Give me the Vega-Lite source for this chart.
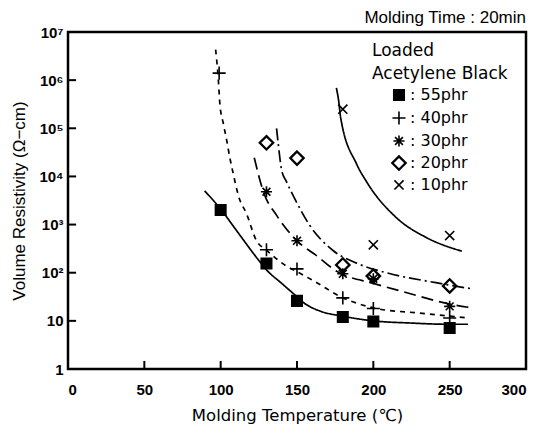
{
  "$schema": "https://vega.github.io/schema/vega-lite/v6.json",
  "width": 458,
  "height": 337,
  "padding": {"left": 10, "top": 9, "right": 14, "bottom": 5},
  "background": "white",
  "title": {"text": "Molding Time : 20min", "anchor": "end", "fontSize": 17, "fontWeight": "normal", "font": "Liberation Sans", "color": "black", "offset": -2},
  "config": {
    "view": {"stroke": "black", "strokeWidth": 2.5},
    "axis": {
      "domain": false, "grid": false, "ticks": false,
      "labelFont": "Liberation Sans", "labelFontSize": 15, "labelColor": "black", "labelFontWeight": "bold",
      "titleFont": "Liberation Sans", "titleFontSize": 17, "titleFontWeight": "normal", "titleColor": "black"
    }
  },
  "datasets": {
    "points": [
      {"series": "55phr", "temp": 100, "res": 2000},
      {"series": "55phr", "temp": 130, "res": 155},
      {"series": "55phr", "temp": 150, "res": 26},
      {"series": "55phr", "temp": 180, "res": 12},
      {"series": "55phr", "temp": 200, "res": 9.7},
      {"series": "55phr", "temp": 250, "res": 7.1},
      {"series": "40phr", "temp": 99, "res": 1400000},
      {"series": "40phr", "temp": 130, "res": 300},
      {"series": "40phr", "temp": 150, "res": 120},
      {"series": "40phr", "temp": 180, "res": 30},
      {"series": "40phr", "temp": 200, "res": 18},
      {"series": "40phr", "temp": 250, "res": 11.5},
      {"series": "30phr", "temp": 130, "res": 4800},
      {"series": "30phr", "temp": 150, "res": 460},
      {"series": "30phr", "temp": 180, "res": 95},
      {"series": "30phr", "temp": 200, "res": 75},
      {"series": "30phr", "temp": 250, "res": 20},
      {"series": "20phr", "temp": 130, "res": 50000},
      {"series": "20phr", "temp": 150, "res": 24000},
      {"series": "20phr", "temp": 180, "res": 145},
      {"series": "20phr", "temp": 200, "res": 85},
      {"series": "20phr", "temp": 250, "res": 53},
      {"series": "10phr", "temp": 180, "res": 250000},
      {"series": "10phr", "temp": 200, "res": 380},
      {"series": "10phr", "temp": 250, "res": 590}
    ],
    "legendKeys": [
      {"series": "55phr", "label": ": 55phr", "temp": 216.8, "labelTemp": 224, "res": 493000},
      {"series": "40phr", "label": ": 40phr", "temp": 216.8, "labelTemp": 224, "res": 164000},
      {"series": "30phr", "label": ": 30phr", "temp": 216.8, "labelTemp": 224, "res": 54500},
      {"series": "20phr", "label": ": 20phr", "temp": 216.8, "labelTemp": 224, "res": 19000},
      {"series": "10phr", "label": ": 10phr", "temp": 216.8, "labelTemp": 224, "res": 6640}
    ],
    "legendTitle": [
      {"text": "Loaded", "temp": 199.1, "res": 4040000},
      {"text": "Acetylene Black", "temp": 199.1, "res": 1340000}
    ],
    "xTicks": [{"temp": 50}, {"temp": 100}, {"temp": 150}, {"temp": 200}, {"temp": 250}],
    "yTicks": [{"res": 10}, {"res": 100}, {"res": 1000}, {"res": 10000}, {"res": 100000}, {"res": 1000000}],
    "curves": [
      {"curve": "55phr", "o": 1, "temp": 89.5, "res": 5000},
      {"curve": "55phr", "o": 2, "temp": 100, "res": 2100},
      {"curve": "55phr", "o": 3, "temp": 110, "res": 780},
      {"curve": "55phr", "o": 4, "temp": 125, "res": 180},
      {"curve": "55phr", "o": 5, "temp": 130, "res": 115},
      {"curve": "55phr", "o": 6, "temp": 140, "res": 60},
      {"curve": "55phr", "o": 7, "temp": 148, "res": 36},
      {"curve": "55phr", "o": 8, "temp": 155, "res": 23},
      {"curve": "55phr", "o": 9, "temp": 165, "res": 16},
      {"curve": "55phr", "o": 10, "temp": 180, "res": 12.5},
      {"curve": "55phr", "o": 11, "temp": 200, "res": 10},
      {"curve": "55phr", "o": 12, "temp": 225, "res": 9},
      {"curve": "55phr", "o": 13, "temp": 248, "res": 8.5},
      {"curve": "55phr", "o": 14, "temp": 262, "res": 8.5},
      {"curve": "40phr", "o": 1, "temp": 96.7, "res": 4300000},
      {"curve": "40phr", "o": 2, "temp": 98.5, "res": 1000000},
      {"curve": "40phr", "o": 3, "temp": 99.5, "res": 316000},
      {"curve": "40phr", "o": 4, "temp": 101.8, "res": 123000},
      {"curve": "40phr", "o": 5, "temp": 104, "res": 55000},
      {"curve": "40phr", "o": 6, "temp": 106, "res": 24500},
      {"curve": "40phr", "o": 7, "temp": 108.3, "res": 11200},
      {"curve": "40phr", "o": 8, "temp": 111.6, "res": 4000},
      {"curve": "40phr", "o": 9, "temp": 117, "res": 1660},
      {"curve": "40phr", "o": 10, "temp": 123.5, "res": 460},
      {"curve": "40phr", "o": 11, "temp": 130, "res": 295},
      {"curve": "40phr", "o": 12, "temp": 143, "res": 138},
      {"curve": "40phr", "o": 13, "temp": 150, "res": 105},
      {"curve": "40phr", "o": 14, "temp": 163, "res": 62},
      {"curve": "40phr", "o": 15, "temp": 180, "res": 30},
      {"curve": "40phr", "o": 16, "temp": 189, "res": 23.4},
      {"curve": "40phr", "o": 17, "temp": 200, "res": 18.6},
      {"curve": "40phr", "o": 18, "temp": 230, "res": 14.5},
      {"curve": "40phr", "o": 19, "temp": 262, "res": 11.5},
      {"curve": "30phr", "o": 1, "temp": 122, "res": 24500},
      {"curve": "30phr", "o": 2, "temp": 128, "res": 4800},
      {"curve": "30phr", "o": 3, "temp": 137, "res": 1500},
      {"curve": "30phr", "o": 4, "temp": 150, "res": 460},
      {"curve": "30phr", "o": 5, "temp": 163, "res": 224},
      {"curve": "30phr", "o": 6, "temp": 176, "res": 107},
      {"curve": "30phr", "o": 7, "temp": 200, "res": 60},
      {"curve": "30phr", "o": 8, "temp": 220, "res": 40},
      {"curve": "30phr", "o": 9, "temp": 250, "res": 22.4},
      {"curve": "30phr", "o": 10, "temp": 265, "res": 18.6},
      {"curve": "20phr", "o": 1, "temp": 136.6, "res": 100000},
      {"curve": "20phr", "o": 2, "temp": 137.7, "res": 47900},
      {"curve": "20phr", "o": 3, "temp": 140, "res": 13200},
      {"curve": "20phr", "o": 4, "temp": 143, "res": 7900},
      {"curve": "20phr", "o": 5, "temp": 147.5, "res": 4000},
      {"curve": "20phr", "o": 6, "temp": 158, "res": 1000},
      {"curve": "20phr", "o": 7, "temp": 174, "res": 282},
      {"curve": "20phr", "o": 8, "temp": 189, "res": 158},
      {"curve": "20phr", "o": 9, "temp": 208.5, "res": 100},
      {"curve": "20phr", "o": 10, "temp": 241, "res": 62},
      {"curve": "20phr", "o": 11, "temp": 265, "res": 46},
      {"curve": "10phr", "o": 1, "temp": 175.8, "res": 690000},
      {"curve": "10phr", "o": 2, "temp": 177.3, "res": 370000},
      {"curve": "10phr", "o": 3, "temp": 178.6, "res": 166000},
      {"curve": "10phr", "o": 4, "temp": 189, "res": 18200},
      {"curve": "10phr", "o": 5, "temp": 195.4, "res": 7900},
      {"curve": "10phr", "o": 6, "temp": 215, "res": 1400},
      {"curve": "10phr", "o": 7, "temp": 234.6, "res": 540},
      {"curve": "10phr", "o": 8, "temp": 258, "res": 280}
    ]
  },
  "layer": [
    {
      "data": {"name": "curves"},
      "mark": {"type": "line", "color": "black", "strokeWidth": 1.7, "interpolate": "monotone"},
      "encoding": {
        "x": {"field": "temp", "type": "quantitative", "scale": {"domain": [0, 300], "nice": false, "zero": false},
              "axis": {"values": [0, 50, 100, 150, 200, 250, 300], "title": "Molding Temperature (℃)", "titleFont": "DejaVu Sans", "titleFontSize": 16.5, "labelPadding": 13, "titlePadding": 10}},
        "y": {"field": "res", "type": "quantitative", "scale": {"type": "log", "domain": [1, 10000000], "nice": false},
              "axis": {"values": [1, 10, 100, 1000, 10000, 100000, 1000000, 10000000], "title": "Volume Resistivity  (Ω−cm)", "labelPadding": 5, "titlePadding": 10,
                       "labelExpr": "datum.value < 5 ? '1' : datum.value < 50 ? '10' : '10' + ['','','²','³','⁴','⁵','⁶','⁷'][round(log(datum.value)/LN10)]"}},
        "order": {"field": "o", "type": "quantitative"},
        "detail": {"field": "curve"},
        "strokeDash": {"field": "curve", "type": "nominal", "legend": null,
                       "scale": {"domain": ["55phr", "40phr", "30phr", "20phr", "10phr"], "range": [[1, 0], [5, 5], [12, 6], [12, 4, 2, 4], [1, 0]]}}
      }
    },
    {
      "data": {"name": "xTicks"},
      "mark": {"type": "rule", "color": "black", "strokeWidth": 2},
      "encoding": {
        "x": {"field": "temp", "type": "quantitative"},
        "y": {"datum": 1, "type": "quantitative"},
        "y2": {"datum": 1.47}
      }
    },
    {
      "data": {"name": "yTicks"},
      "mark": {"type": "rule", "color": "black", "strokeWidth": 2},
      "encoding": {
        "y": {"field": "res", "type": "quantitative"},
        "x": {"datum": 0, "type": "quantitative"},
        "x2": {"datum": 5.3}
      }
    },
    {
      "data": {"name": "points"},
      "mark": {"type": "point", "filled": true, "fill": "black", "stroke": "black", "strokeWidth": 1.6, "opacity": 1, "size": 170},
      "encoding": {
        "x": {"field": "temp", "type": "quantitative"},
        "y": {"field": "res", "type": "quantitative"},
        "shape": {"field": "series", "type": "nominal", "legend": null,
                  "scale": {"domain": ["55phr", "40phr", "30phr", "20phr", "10phr"],
                            "range": ["M-0.8,-0.8H0.8V0.8H-0.8Z", "M-1,0H1M0,-1V1", "M-0.85,0H0.85M0,-0.85V0.85M-0.6,-0.6L0.6,0.6M-0.6,0.6L0.6,-0.6", "M0,-1.1L1.1,0L0,1.1L-1.1,0Z M0,-0.95L-0.95,0L0,0.95L0.95,0Z", "M-0.7,-0.7L0.7,0.7M-0.7,0.7L0.7,-0.7"]}}
      }
    },
    {
      "data": {"name": "legendKeys"},
      "mark": {"type": "point", "filled": true, "fill": "black", "stroke": "black", "strokeWidth": 1.6, "opacity": 1, "size": 170},
      "encoding": {
        "x": {"field": "temp", "type": "quantitative"},
        "y": {"field": "res", "type": "quantitative"},
        "shape": {"field": "series", "type": "nominal", "legend": null}
      }
    },
    {
      "data": {"name": "legendKeys"},
      "mark": {"type": "text", "align": "left", "baseline": "middle", "font": "DejaVu Sans", "fontSize": 16, "color": "black"},
      "encoding": {
        "x": {"field": "labelTemp", "type": "quantitative"},
        "y": {"field": "res", "type": "quantitative"},
        "text": {"field": "label"}
      }
    },
    {
      "data": {"name": "legendTitle"},
      "mark": {"type": "text", "align": "left", "baseline": "middle", "font": "DejaVu Sans", "fontSize": 17, "color": "black"},
      "encoding": {
        "x": {"field": "temp", "type": "quantitative"},
        "y": {"field": "res", "type": "quantitative"},
        "text": {"field": "text"}
      }
    }
  ]
}
